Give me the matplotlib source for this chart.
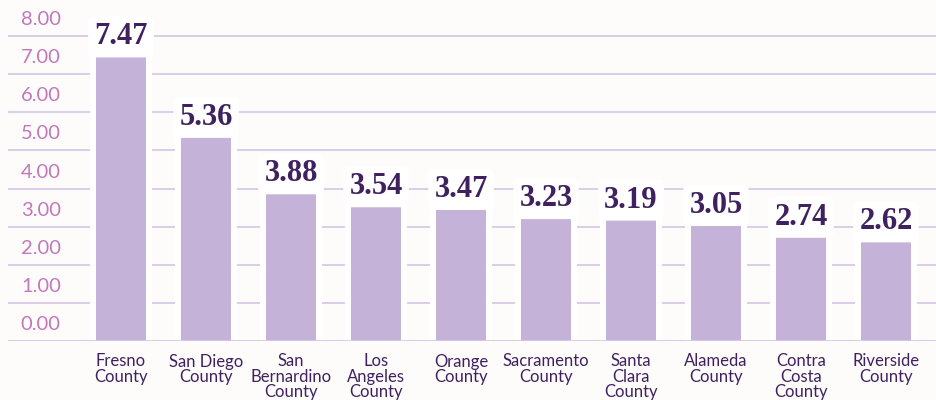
import matplotlib.pyplot as plt
from matplotlib.transforms import ScaledTranslation

counties = ["Fresno\nCounty", "San Diego\nCounty", "San\nBernardino\nCounty", "Los\nAngeles\nCounty",
            "Orange\nCounty", "Sacramento\nCounty", "Santa\nClara\nCounty", "Alameda\nCounty",
            "Contra\nCosta\nCounty", "Riverside\nCounty"]
values = [7.47, 5.36, 3.88, 3.54, 3.47, 3.23, 3.19, 3.05, 2.74, 2.62]
yticks = [0, 1, 2, 3, 4, 5, 6, 7, 8]
ytick_labels = ["0.00", "1.00", "2.00", "3.00", "4.00", "5.00", "6.00", "7.00", "8.00"]

bg = "#fdfcfb"
bar_color = "#c4b2d8"
grid_color = "#d9c9e8"
dark = "#3f2160"

fig = plt.figure(figsize=(9.37, 4.0), dpi=100, facecolor=bg)
ax = fig.add_axes([8 / 937, 59 / 400, 929 / 937, 341 / 400])
ax.set_facecolor(bg)

x = list(range(len(values)))
# white halo behind bars breaks the gridlines
ax.bar(x, values, width=0.73, color="white", zorder=2)
ax.bar(x, values, width=0.59, color=bar_color, zorder=3)
ax.axhline(0, color=grid_color, lw=1.3, zorder=4)

for xi, v in zip(x, values):
    ax.annotate(f"{v:.2f}", (xi, v), xytext=(0, 3.5), textcoords="offset points",
                ha="center", va="bottom", fontsize=22, fontweight="bold",
                family="Liberation Serif", color=dark, zorder=5,
                bbox=dict(boxstyle="round,pad=0.2", fc="white", ec="none"))

ax.set_xlim(-1.33, 9.6)
ax.set_ylim(0, 341 / 38.125)
ax.set_axisbelow(True)
ax.yaxis.grid(True, color=grid_color, lw=1.3)

ax.set_yticks(yticks)
ax.set_yticklabels(ytick_labels)
ax.tick_params(axis="y", length=0, pad=-38, labelsize=14.5, labelcolor="#c277bd")
for lab in ax.get_yticklabels():
    lab.set_fontfamily("Lato")
    lab.set_transform(lab.get_transform() + ScaledTranslation(0, 0.18, fig.dpi_scale_trans))

ax.set_xticks(x)
ax.set_xticklabels(counties, fontsize=12, color=dark, family="Lato", linespacing=0.95)
ax.tick_params(axis="x", length=0, pad=9)

for s in ax.spines.values():
    s.set_visible(False)

fig.savefig("out.png", dpi=100, facecolor=bg)
